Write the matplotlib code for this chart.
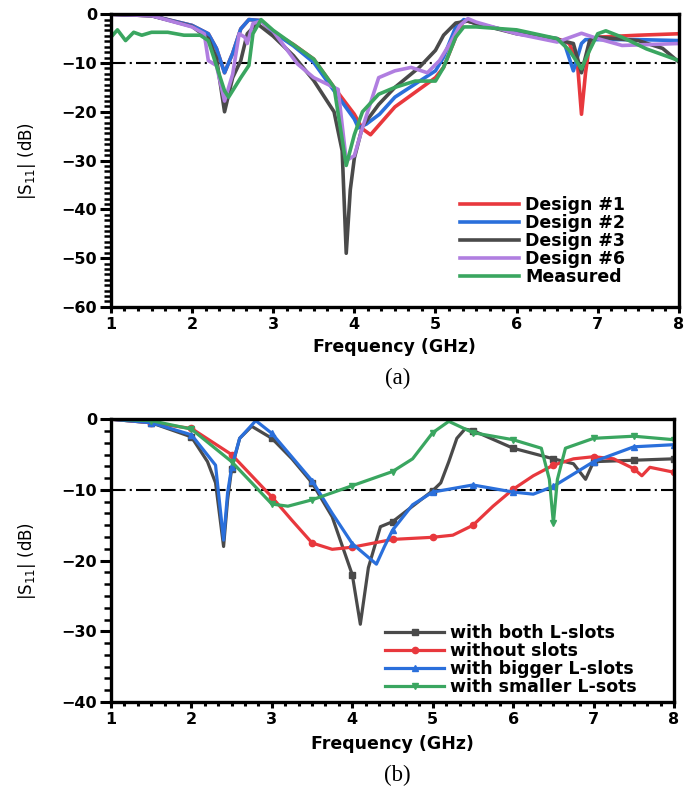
import matplotlib
matplotlib.use("Agg")
import matplotlib.pyplot as plt
from matplotlib.ticker import MultipleLocator, AutoMinorLocator

plt.rcParams['font.family'] = ['DejaVu Sans']

# ---- (a) data: |S11| of the designs vs frequency (GHz) ----
d1_f = [1.0, 1.5, 2.0, 2.2, 2.3, 2.4, 2.5, 2.6, 2.7, 2.85, 3.0, 3.25, 3.5, 3.75, 4.0, 4.1, 4.2, 4.31, 4.5,
        4.75, 5.0, 5.1, 5.25, 5.35, 5.5, 6.0, 6.5, 6.65, 6.75, 6.8, 6.85, 6.9, 7.0, 7.5, 8.0]
d1_s = [0.0, -0.3, -2.3, -4.0, -7.0, -12.0, -8.0, -3.0, -1.1, -1.3, -3.7, -6.2, -9.2, -15.0, -20.5, -23.5,
        -24.7, -22.6, -19.0, -16.0, -13.0, -10.9, -4.7, -1.2, -1.9, -3.8, -5.0, -6.0, -10.0, -20.5, -12.0,
        -6.0, -4.7, -4.3, -4.0]

d2_f = [1.0, 1.5, 2.0, 2.2, 2.3, 2.4, 2.5, 2.6, 2.7, 2.85, 3.0, 3.25, 3.5, 3.75, 4.0, 4.05, 4.15, 4.31,
        4.5, 5.0, 5.1, 5.25, 5.35, 5.5, 6.0, 6.5, 6.6, 6.7, 6.8, 6.85, 7.5, 8.0]
d2_s = [0.0, -0.3, -2.3, -4.0, -7.0, -12.0, -8.0, -3.0, -1.1, -1.3, -3.7, -6.5, -9.9, -15.7, -21.5, -23.3,
        -22.5, -20.5, -17.0, -11.6, -8.8, -2.6, -1.1, -1.9, -3.8, -5.0, -6.5, -11.6, -6.0, -5.2, -5.2, -5.4]

d3_f = [1.0, 1.5, 2.0, 2.2, 2.3, 2.4, 2.5, 2.6, 2.68, 2.8, 3.0, 3.25, 3.5, 3.75, 3.85, 3.9, 3.95, 4.0,
        4.1, 4.3, 4.5, 4.8, 5.0, 5.1, 5.25, 5.4, 5.5, 6.0, 6.5, 6.7, 6.8, 6.9, 7.0, 7.5, 7.8, 8.0]
d3_s = [0.0, -0.3, -2.5, -5.0, -9.0, -20.0, -13.0, -9.5, -4.0, -1.9, -4.5, -8.5, -13.6, -20.0, -28.0,
        -49.0, -36.0, -29.5, -23.0, -18.5, -15.0, -10.9, -7.4, -4.3, -1.8, -1.4, -1.9, -4.0, -5.2, -6.0,
        -12.0, -5.4, -4.7, -5.4, -7.0, -9.8]

d6_f = [1.0, 1.5, 2.0, 2.15, 2.2, 2.3, 2.4, 2.5, 2.58, 2.65, 2.68, 2.75, 2.85, 3.0, 3.3, 3.5, 3.8, 3.9,
        4.0, 4.1, 4.3, 4.5, 4.7, 4.9, 5.05, 5.2, 5.3, 5.4, 5.5, 6.0, 6.5, 6.8, 7.0, 7.3, 8.0]
d6_s = [0.0, -0.3, -2.6, -4.0, -9.5, -10.5, -17.8, -12.3, -4.0, -4.7, -6.0, -1.9, -1.4, -3.5, -10.2,
        -13.0, -15.4, -30.0, -29.0, -23.3, -13.0, -11.6, -10.9, -12.0, -9.5, -5.4, -2.3, -0.9, -1.6,
        -4.0, -5.7, -3.9, -5.0, -6.4, -6.0]

meas_f = [1.0, 1.08, 1.18, 1.28, 1.38, 1.5, 1.7, 1.9, 2.1, 2.2, 2.4, 2.45, 2.6, 2.7, 2.75, 2.85, 3.0,
          3.5, 3.75, 3.9, 4.0, 4.1, 4.3, 4.5, 4.75, 5.0, 5.1, 5.25, 5.35, 5.5, 6.0, 6.5, 6.65, 6.8, 6.9,
          7.0, 7.1, 7.3, 7.6, 8.0]
meas_s = [-4.7, -3.2, -5.4, -3.7, -4.3, -3.7, -3.7, -4.3, -4.3, -5.4, -15.7, -17.0, -13.0, -10.5, -4.0,
          -1.1, -3.3, -9.2, -15.0, -31.0, -24.7, -20.0, -16.4, -15.0, -13.7, -13.7, -10.9, -4.7, -2.6,
          -2.6, -3.2, -5.0, -7.4, -11.2, -7.4, -4.0, -3.4, -4.7, -7.1, -9.5]

# ---- (b) data: slot variations ----
both_f = [1.0, 1.5, 2.0, 2.2, 2.3, 2.4, 2.45, 2.5, 2.6, 2.75, 3.0, 3.25, 3.5, 3.75, 4.0, 4.1, 4.2, 4.35,
          4.5, 4.75, 5.0, 5.1, 5.2, 5.3, 5.4, 5.5, 6.0, 6.5, 6.75, 6.9, 7.0, 7.5, 8.0]
both_s = [0.0, -0.5, -2.5, -6.0, -9.0, -18.0, -11.4, -7.0, -2.7, -1.0, -2.7, -5.6, -9.0, -13.8, -22.0,
          -29.0, -21.0, -15.2, -14.5, -12.3, -10.1, -9.0, -6.0, -2.7, -1.4, -1.6, -4.1, -5.6, -6.3, -8.5,
          -6.0, -5.8, -5.6]

nos_f = [1.0, 1.5, 2.0, 2.5, 3.0, 3.25, 3.5, 3.75, 4.0, 4.5, 5.0, 5.25, 5.5, 5.75, 6.0, 6.25, 6.5, 6.75,
         7.0, 7.25, 7.5, 7.6, 7.7, 8.0]
nos_s = [0.0, -0.5, -1.3, -5.0, -11.0, -14.3, -17.5, -18.4, -18.1, -17.0, -16.7, -16.4, -15.0, -12.3,
         -9.9, -8.0, -6.5, -5.6, -5.3, -5.6, -7.0, -8.0, -6.8, -7.5]

big_f = [1.0, 1.5, 2.0, 2.3, 2.4, 2.45, 2.5, 2.6, 2.8, 3.0, 3.5, 3.75, 4.0, 4.3, 4.4, 4.5, 4.75, 5.0,
         5.5, 6.0, 6.25, 6.5, 7.0, 7.5, 8.0]
big_s = [0.0, -0.5, -2.2, -6.5, -17.1, -10.4, -6.8, -2.7, -0.2, -2.0, -8.7, -13.3, -17.6, -20.5, -18.0,
         -15.7, -12.1, -10.3, -9.3, -10.3, -10.6, -9.5, -6.0, -3.9, -3.6]

small_f = [1.0, 1.5, 2.0, 2.5, 3.0, 3.2, 3.5, 4.0, 4.5, 4.75, 5.0, 5.2, 5.5, 6.0, 6.35, 6.45, 6.5, 6.55,
           6.65, 7.0, 7.5, 8.0]
small_s = [0.0, -0.2, -1.4, -6.0, -12.0, -12.3, -11.4, -9.4, -7.4, -5.6, -1.9, -0.3, -1.9, -2.9, -4.1,
           -8.5, -14.7, -8.5, -4.1, -2.7, -2.4, -2.9]

RED = '#e8383d'
BLUE = '#2a6fdb'
GRAY = '#4a4a4a'
PURPLE = '#b07ee0'
GREEN = '#3aa660'


def style_axes(ax, ymin, y_minor_n):
    ax.set_xlim(1, 8)
    ax.set_ylim(ymin, 0)
    ax.xaxis.set_major_locator(MultipleLocator(1))
    ax.xaxis.set_minor_locator(AutoMinorLocator(6))
    ax.yaxis.set_major_locator(MultipleLocator(10))
    ax.yaxis.set_minor_locator(AutoMinorLocator(y_minor_n))
    for s in ax.spines.values():
        s.set_linewidth(2.4)
    ax.tick_params(which='both', direction='out', labelsize=11.5)
    ax.tick_params(axis='x', which='major', length=4.5, width=2.2, pad=3)
    ax.tick_params(axis='x', which='minor', length=3, width=2.2)
    ax.tick_params(axis='y', which='major', length=8, width=2.2, pad=2)
    ax.tick_params(axis='y', which='minor', length=5, width=1.8)
    for lab in ax.get_xticklabels() + ax.get_yticklabels():
        lab.set_fontweight('bold')
    ax.axhline(-10, color='black', lw=1.5, ls=(0, (7, 2, 1, 2)), zorder=1)
    ax.set_xlabel('Frequency (GHz)', fontsize=12.5, fontweight='bold')
    ax.set_ylabel('|S$_{11}$| (dB)', fontsize=12)


fig = plt.figure(figsize=(6.85, 7.91), dpi=100)

# ---------- (a) ----------
ax1 = fig.add_axes([0.162, 0.612, 0.829, 0.370])
lw = 2.6
ax1.plot(d1_f, d1_s, color=RED, lw=lw, label='Design #1')
ax1.plot(d2_f, d2_s, color=BLUE, lw=lw, label='Design #2')
ax1.plot(d3_f, d3_s, color=GRAY, lw=lw, label='Design #3')
ax1.plot(d6_f, d6_s, color=PURPLE, lw=lw, label='Design #6')
ax1.plot(meas_f, meas_s, color=GREEN, lw=lw, label='Measured')
style_axes(ax1, -60, 9)
ax1.xaxis.set_label_coords(0.5, -0.105)
ax1.yaxis.set_label_coords(-0.128, 0.5)
ax1.legend(loc='lower left', bbox_to_anchor=(0.615, 0.07), frameon=False, borderpad=0,
           borderaxespad=0, handlelength=3.4, labelspacing=0.0, handletextpad=0.35,
           prop={'weight': 'bold', 'size': 12.5})
fig.text(0.580, 0.522, '(a)', ha='center', va='center', fontsize=16.5, family='Liberation Serif')

# ---------- (b) ----------
ax2 = fig.add_axes([0.162, 0.1125, 0.822, 0.3575])


def marks(f):
    return [i for i, v in enumerate(f) if abs(v * 2 - round(v * 2)) < 1e-9 and v > 1.0]


lw2 = 2.3
ax2.plot(both_f, both_s, color=GRAY, lw=lw2, marker='s', ms=4.5, markevery=marks(both_f),
         label='with both L-slots')
ax2.plot(nos_f, nos_s, color=RED, lw=lw2, marker='o', ms=4.5, markevery=marks(nos_f),
         label='without slots')
ax2.plot(big_f, big_s, color=BLUE, lw=lw2, marker='^', ms=5, markevery=marks(big_f),
         label='with bigger L-slots')
ax2.plot(small_f, small_s, color=GREEN, lw=lw2, marker='v', ms=5, markevery=marks(small_f),
         label='with smaller L-sots')
style_axes(ax2, -40, 6)
ax2.xaxis.set_label_coords(0.5, -0.115)
ax2.yaxis.set_label_coords(-0.13, 0.5)
ax2.legend(loc='lower left', bbox_to_anchor=(0.487, 0.02), frameon=False, borderpad=0,
           borderaxespad=0, handlelength=3.4, labelspacing=0.0, handletextpad=0.35,
           prop={'weight': 'bold', 'size': 12.5})
fig.text(0.580, 0.020, '(b)', ha='center', va='center', fontsize=16.5, family='Liberation Serif')

fig.savefig('out.png', dpi=100)
